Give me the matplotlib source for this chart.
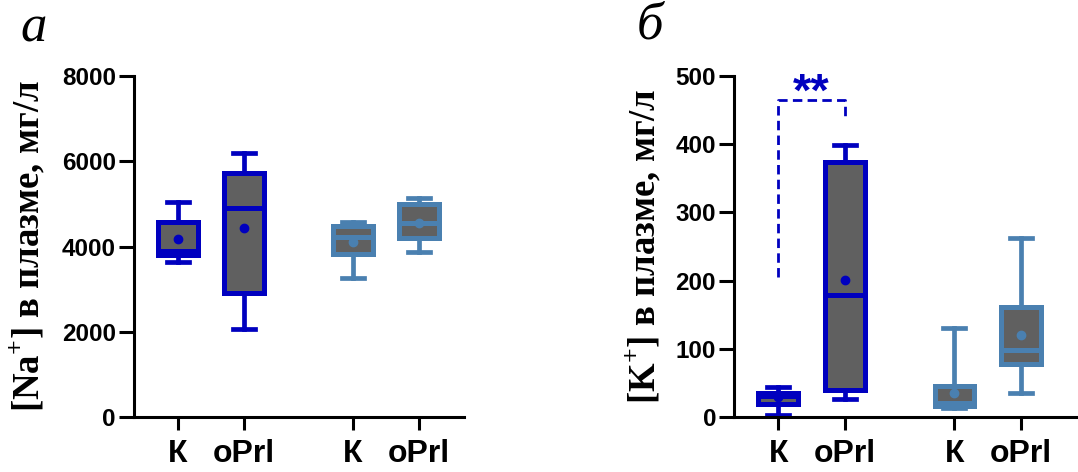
import numpy as np
import matplotlib
matplotlib.use('Agg')
import matplotlib.pyplot as plt

plt.rcParams['mathtext.fontset'] = 'custom'
plt.rcParams['mathtext.rm'] = 'Liberation Serif:bold'
plt.rcParams['mathtext.bf'] = 'Liberation Serif:bold'

# group order: K, oPrl, K, oPrl
labels = ['К', 'oPrl', 'К', 'oPrl']
positions = [1, 2, 3.65, 4.65]

# Na+ (mg/l): whisker low, Q1, median, Q3, whisker high, mean
na_lo = [3640, 2060, 3270, 3880]
na_q1 = [3790, 2900, 3820, 4190]
na_med = [3900, 4900, 4225, 4550]
na_q3 = [4570, 5720, 4470, 5000]
na_hi = [5045, 6200, 4570, 5130]
na_mean = [4170, 4440, 4110, 4560]

# K+ (mg/l)
k_lo = [3.4, 26, 12.7, 35.6]
k_q1 = [19.6, 39, 16, 77.7]
k_med = [30.8, 179, 20, 98]
k_q3 = [34.6, 374, 46, 161]
k_hi = [44, 399, 131, 262]
k_mean = [30, 201, 35.6, 120]

blue = '#0000BF'
steel = '#4A80B0'
colors = [blue, blue, steel, steel]
fill = '#606060'


def boxes(ax, lo, q1, med, q3, hi, mean):
    for i in range(4):
        st = [dict(whislo=lo[i], q1=q1[i], med=med[i], q3=q3[i],
                   whishi=hi[i], mean=mean[i], fliers=[])]
        c = colors[i]
        ax.bxp(st, positions=[positions[i]], widths=0.6, capwidths=0.33,
               patch_artist=True, showmeans=True, manage_ticks=False,
               boxprops=dict(facecolor=fill, edgecolor=c, linewidth=3.6),
               medianprops=dict(color=c, linewidth=3.6),
               whiskerprops=dict(color=c, linewidth=3.4),
               capprops=dict(color=c, linewidth=3.4),
               meanprops=dict(marker='o', markerfacecolor=c,
                              markeredgecolor=c, markersize=6))


def style(ax, ylabel, xmax):
    for s in ['top', 'right']:
        ax.spines[s].set_visible(False)
    for s in ['left', 'bottom']:
        ax.spines[s].set_linewidth(2.2)
    ax.set_xlim(0.333, xmax)
    ax.set_xticks(positions)
    ax.set_xticklabels(labels, fontsize=23, fontweight='bold',
                       family='Liberation Sans')
    ax.tick_params(axis='x', length=9, width=2.2, pad=7)
    ax.tick_params(axis='y', length=11, width=2.2, pad=2)
    for t in ax.get_yticklabels():
        t.set_fontsize(17.5)
        t.set_fontweight('bold')
        t.set_family('Liberation Sans')
    ax.set_ylabel(ylabel, fontsize=26.5, fontweight='bold',
                  family='Liberation Serif')


fig = plt.figure(figsize=(10.78, 4.72), dpi=100)
ax1 = fig.add_axes([0.1243, 0.1165, 0.306, 0.7225])
ax2 = fig.add_axes([0.681, 0.1165, 0.319, 0.7225])

boxes(ax1, na_lo, na_q1, na_med, na_q3, na_hi, na_mean)
ax1.set_ylim(0, 8000)
ax1.set_yticks([0, 2000, 4000, 6000, 8000])
style(ax1, '[Na$^{+}$] в плазме, мг/л', 5.333)
ax1.yaxis.set_label_coords(-0.262, 0.5)

boxes(ax2, k_lo, k_q1, k_med, k_q3, k_hi, k_mean)
ax2.set_ylim(0, 500)
ax2.set_yticks([0, 100, 200, 300, 400, 500])
style(ax2, '[K$^{+}$] в плазме, мг/л', 5.51)
ax2.yaxis.set_label_coords(-0.206, 0.5)

# significance bracket K vs oPrl
ax2.plot([1, 1, 2, 2], [205, 465, 465, 440], color=blue, lw=2.0,
         ls=(0, (3.4, 1.9)), clip_on=False)
ax2.text(1.5, 474, '**', color=blue, fontsize=34, fontweight='bold',
         ha='center', va='center', family='Liberation Sans')

fig.text(0.031, 0.94, 'а', fontsize=38, style='italic',
         family='Liberation Serif', ha='center', va='center')
fig.text(0.603, 0.945, 'б', fontsize=38, style='italic',
         family='Liberation Serif', ha='center', va='center')

fig.savefig('out.png', dpi=100)
